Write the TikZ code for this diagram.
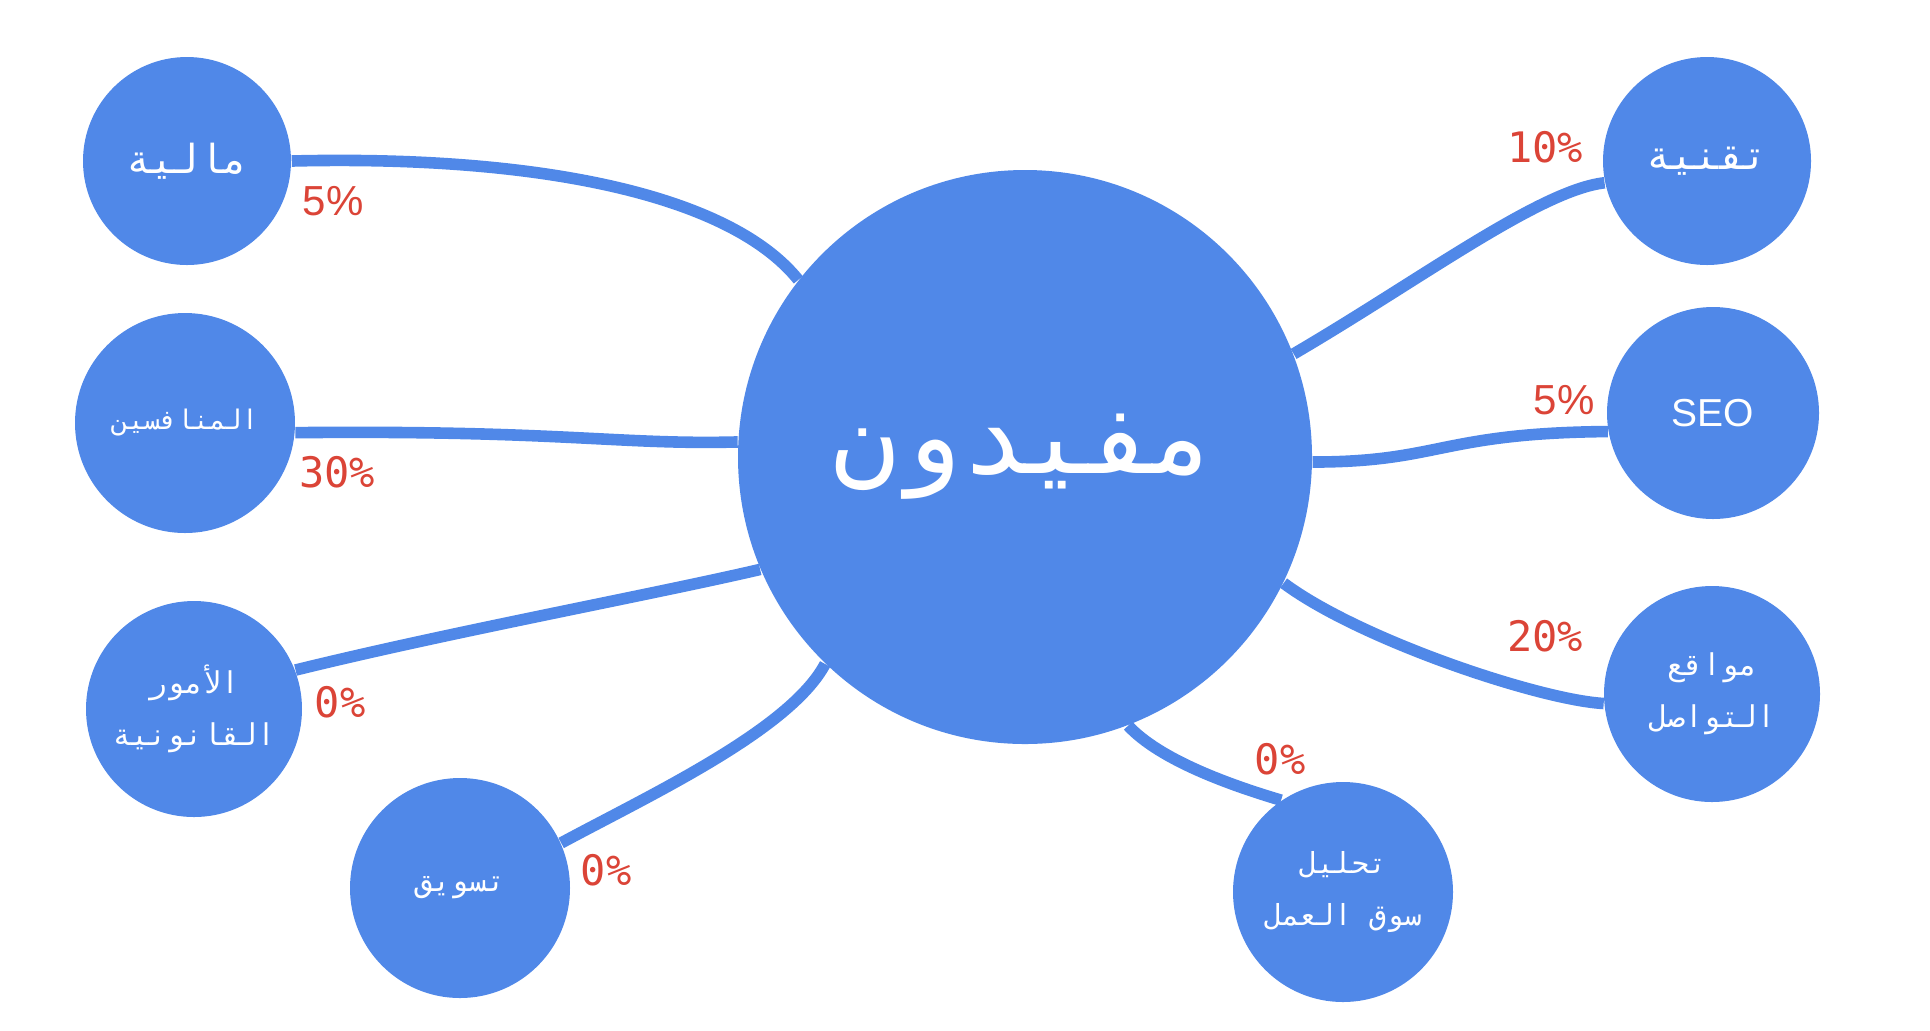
\documentclass[tikz,border=0pt]{standalone}
\usepackage{fontspec}
\setmainfont{Liberation Sans}
\newfontfamily\arabicmono[Script=Arabic]{DejaVu Sans Mono}
\newfontfamily\pctmono{DejaVu Sans Mono}
\TeXXeTstate=1

\definecolor{bubbleblue}{RGB}{80,136,232}
\definecolor{pctred}{RGB}{219,68,55}

\tikzset{every picture/.style={line width=0.75pt},
  bubble/.style={circle, fill=bubbleblue, draw=none, text=white, inner sep=0pt, minimum size=107pt, align=center, font=\arabicmono\fontsize{15}{26}\selectfont},
  hub/.style={bubble, minimum size=287pt, font=\arabicmono\fontsize{53}{60}\selectfont},
  link/.style={draw=bubbleblue, line width=5.8pt},
  pct/.style={text=pctred, inner sep=0.75pt, font=\pctmono\fontsize{21}{24}\selectfont},
  pctsans/.style={pct, font=\fontsize{21}{24}\selectfont}}

\begin{document}
\begin{tikzpicture}[x=0.5pt,y=0.5pt,yscale=-1,xscale=1]
        \useasboundingbox (0,0) rectangle (1930,1030);

        %Shape: Circle [id:hub]
        \draw (1025,457) node (mufid) [hub] {\beginR مفيدون\endR};
        %Shape: Circle [id:left]
        \draw (187,161) node (maliya) [bubble, minimum size=104pt, font=\arabicmono\fontsize{20}{26}\selectfont] {\beginR مالية\endR};
        \draw (185,423) node (munafisin) [bubble, minimum size=110pt, font=\arabicmono\fontsize{13.5}{26}\selectfont] {\beginR المنافسين\endR};
        \draw (194,709) node (umur) [bubble, minimum size=108pt] {\beginR الأمور\endR\\\beginR القانونية\endR};
        \draw (460,888) node (tasweeq) [bubble, minimum size=110pt] {\beginR تسويق\endR};
        %Shape: Circle [id:right]
        \draw (1343,892) node (tahleel) [bubble, minimum size=110pt, font=\arabicmono\fontsize{14.5}{26}\selectfont] {\beginR تحليل\endR\\\beginR سوق العمل\endR};
        \draw (1712,694) node (mawaqi) [bubble, minimum size=108pt] {\beginR مواقع\endR\\\beginR التواصل\endR};
        \draw (1713,413) node (seo) [bubble, minimum size=106pt, font=\fontsize{19.5}{22}\selectfont] {SEO};
        \draw (1707,161) node (taqniya) [bubble, minimum size=104pt, font=\arabicmono\fontsize{20}{26}\selectfont] {\beginR تقنية\endR};

        %Curve Lines [id:left]
        \draw [link] (maliya.east) .. controls (540,155) and (730,195) .. (mufid.142);
        \draw [link] (munafisin.355) .. controls (560,430) and (620,445) .. (mufid.177);
        \draw [link] (umur.21) .. controls (450,632) and (650,595) .. (mufid.203.6);
        \draw [link] (tasweeq.24) .. controls (650,795) and (790,730) .. (mufid.226.6);
        %Curve Lines [id:right]
        \draw [link] (mufid.291.4) .. controls (1160,760) and (1230,785) .. (tahleel.124);
        \draw [link] (mufid.334.7) .. controls (1360,640) and (1540,700) .. (mawaqi.185);
        \draw [link] (mufid.359) .. controls (1440,462) and (1440,433) .. (seo.190);
        \draw [link] (mufid.21) .. controls (1420,280) and (1540,190) .. (taqniya.192);

        % Text Node
        \draw (333,201) node (pMaliya) [pctsans] {5\%};
        % Text Node
        \draw (337,472) node (pMunafisin) [pct] {30\%};
        % Text Node
        \draw (340,702) node (pUmur) [pct] {0\%};
        % Text Node
        \draw (606,870) node (pTasweeq) [pct] {0\%};
        % Text Node
        \draw (1280,759) node (pTahleel) [pct] {0\%};
        % Text Node
        \draw (1545,636) node (pMawaqi) [pct] {20\%};
        % Text Node
        \draw (1564,400) node (pSeo) [pctsans] {5\%};
        % Text Node
        \draw (1545,147) node (pTaqniya) [pct] {10\%};
\end{tikzpicture}
\end{document}
